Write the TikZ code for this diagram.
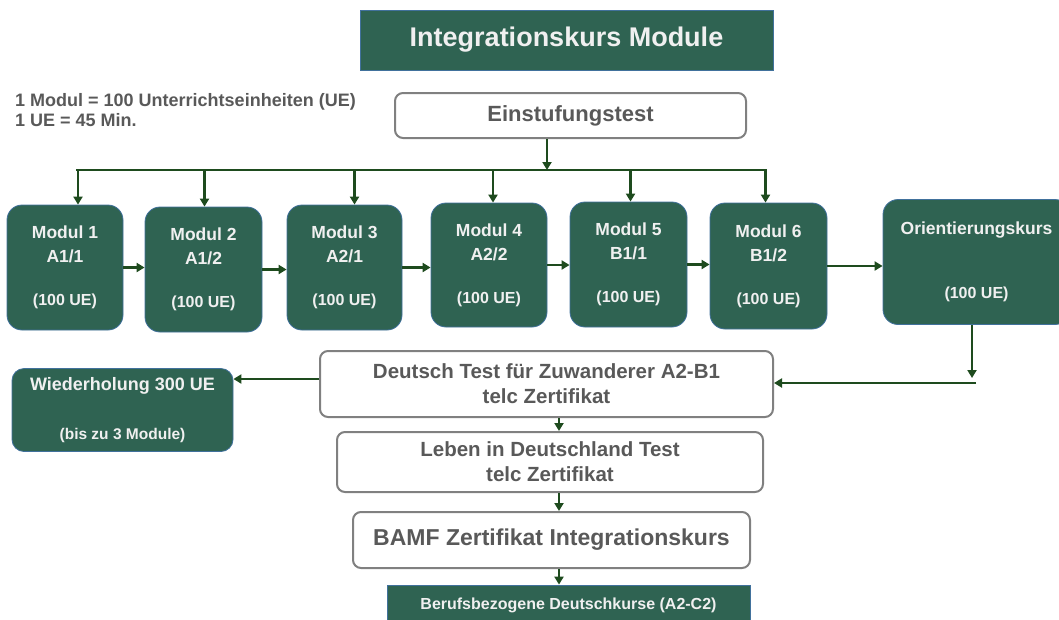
\documentclass[tikz,border=0pt]{standalone}
\usepackage{fontspec}
\setmainfont{Liberation Sans}
\usetikzlibrary{arrows.meta}

\definecolor{kursgreen}{RGB}{47,99,82}
\definecolor{pfeilgreen}{RGB}{30,75,30}
\definecolor{rahmengray}{RGB}{128,128,128}
\definecolor{textgray}{RGB}{89,89,89}
\definecolor{kantenblue}{RGB}{65,113,156}
\definecolor{hellweiss}{RGB}{240,240,240}

\begin{document}
\begin{tikzpicture}
	[x=1pt,y=-1pt%
	,pfeil/.style={draw=pfeilgreen,%
		line width=2.4pt,%
		-{Triangle[length=8pt,width=9pt]}}%
	,modul/.style={fill=kursgreen,%
		draw=kantenblue,%
		line width=0.8pt,%
		rounded corners=15pt,%
		text=hellweiss,%
		align=center,%
		inner sep=0pt,%
		font=\bfseries\fontsize{17.5}{24}\selectfont}%
	,testbox/.style={fill=white,%
		draw=rahmengray,%
		line width=2pt,%
		rounded corners=8pt,%
		text=textgray,%
		align=center,%
		inner sep=0pt,%
		font=\bfseries\fontsize{20.5}{25}\selectfont}]
	\useasboundingbox (0,0) rectangle (1059,619);

	% Kopf
	\node[fill=kursgreen,draw=kantenblue,line width=0.8pt,text=hellweiss,%
		minimum width=413pt,minimum height=60pt,%
		font=\bfseries\fontsize{27}{30}\selectfont] (titel) at (566.5,40) {Integrationskurs Module};
	\node[anchor=base west,inner sep=0pt,text=textgray,font=\bfseries\fontsize{18}{20}\selectfont] (hinweisA) at (15,106) {1 Modul = 100 Unterrichtseinheiten (UE)};
	\node[anchor=base west,inner sep=0pt,text=textgray,font=\bfseries\fontsize{18}{20}\selectfont] (hinweisB) at (15,126) {1 UE = 45 Min.};
	\node[testbox,minimum width=351pt,minimum height=45pt,font=\bfseries\fontsize{22}{25}\selectfont] (einst) at (570.5,115.5) {Einstufungstest};

	% Module
	\node[modul,minimum width=116pt,minimum height=125pt] (m1) at (65,267.5) {Modul 1\\A1/1\\[19pt]{\fontsize{16}{24}\selectfont (100 UE)}};
	\node[modul,minimum width=117pt,minimum height=125pt] (m2) at (203.5,269.5) {Modul 2\\A1/2\\[19pt]{\fontsize{16}{24}\selectfont (100 UE)}};
	\node[modul,minimum width=115pt,minimum height=125pt] (m3) at (344.5,267.5) {Modul 3\\A2/1\\[19pt]{\fontsize{16}{24}\selectfont (100 UE)}};
	\node[modul,minimum width=116pt,minimum height=124pt] (m4) at (489,265) {Modul 4\\A2/2\\[19pt]{\fontsize{16}{24}\selectfont (100 UE)}};
	\node[modul,minimum width=117pt,minimum height=125pt] (m5) at (628.5,264.5) {Modul 5\\B1/1\\[19pt]{\fontsize{16}{24}\selectfont (100 UE)}};
	\node[modul,minimum width=117pt,minimum height=126pt] (m6) at (768.5,266) {Modul 6\\B1/2\\[19pt]{\fontsize{16}{24}\selectfont (100 UE)}};
	\node[modul,minimum width=187pt,minimum height=125pt] (orient) at (976.5,262) {Orientierungskurs\\[40pt]{\fontsize{16}{24}\selectfont (100 UE)}};

	% Pruefungen
	\node[testbox,minimum width=453pt,minimum height=66pt] (dtz) at (546.5,384) {Deutsch Test für Zuwanderer A2-B1\\telc Zertifikat};
	\node[modul,rounded corners=12pt,minimum width=221pt,minimum height=83pt,font=\bfseries\fontsize{18}{24}\selectfont] (wdh) at (122.5,410) {Wiederholung 300 UE\\[25pt]{\fontsize{15.5}{24}\selectfont (bis zu 3 Module)}};
	\node[testbox,minimum width=426pt,minimum height=60pt] (lid) at (550,462) {Leben in Deutschland Test\\telc Zertifikat};
	\node[testbox,minimum width=397pt,minimum height=56pt,font=\bfseries\fontsize{23}{25}\selectfont] (bamf) at (551.5,540) {BAMF Zertifikat Integrationskurs};
	\node[modul,rounded corners=0pt,minimum width=363pt,minimum height=40pt,font=\bfseries\fontsize{16}{18}\selectfont] (beruf) at (568.5,605) {Berufsbezogene Deutschkurse (A2-C2)};

	% Verbindungen
	\coordinate (bus) at (547,170);
	\coordinate (busL) at (76,170);
	\coordinate (busR) at (767,170);
	\coordinate (achse) at (559,0);
	\draw[pfeil] (einst.south -| bus) -- (bus);
	\draw[draw=pfeilgreen,line width=2.4pt] (busL) -- (busR);
	\foreach \m/\dx in {m1/13,m2/1,m3/10,m4/4,m5/2,m6/-3}
		\draw[pfeil] ([xshift=\dx pt]\m.north |- bus) -- ([xshift=\dx pt]\m.north);
	\foreach \a/\b in {m1/m2,m2/m3,m3/m4,m4/m5,m5/m6,m6/orient}
		\draw[pfeil] (\a.east) -- (\a.east -| \b.west);
	\coordinate (ofall) at (972,378);
	\coordinate (oein) at (976,383);
	\draw[pfeil] (orient.south -| ofall) -- (ofall);
	\draw[pfeil] (oein) -- (oein -| dtz.east);
	\draw[pfeil] ([yshift=5pt]dtz.west) -- ([yshift=5pt]dtz.west -| wdh.east);
	\draw[pfeil] (dtz.south -| achse) -- (lid.north -| achse);
	\draw[pfeil] (lid.south -| achse) -- (bamf.north -| achse);
	\draw[pfeil] (bamf.south -| achse) -- (beruf.north -| achse);
\end{tikzpicture}
\end{document}
